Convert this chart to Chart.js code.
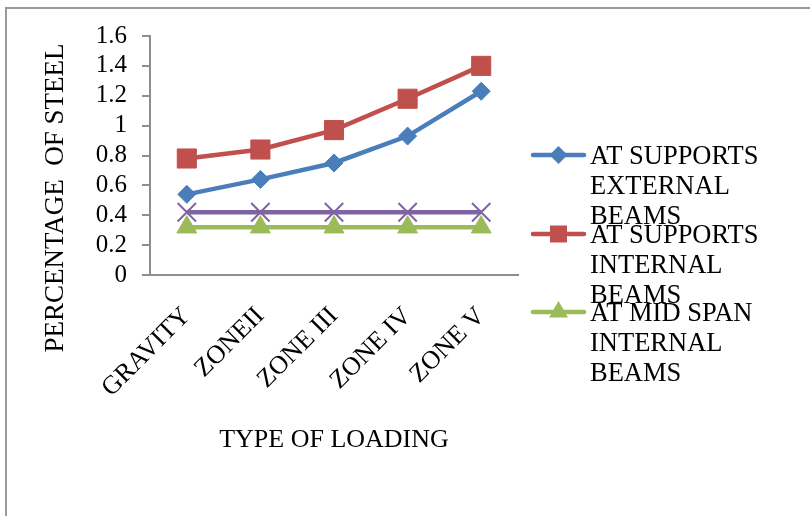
<!DOCTYPE html>
<html><head><meta charset="utf-8">
<script src="https://cdn.jsdelivr.net/npm/chart.js@4.4.1/dist/chart.umd.min.js"></script>
<style>html,body{margin:0;padding:0;background:#fff;}#wrap{width:810px;height:516px;position:relative;}</style>
</head><body><div id="wrap"><canvas id="c" width="810" height="516"></canvas></div>
<script>
const categories = ["GRAVITY", "ZONEII", "ZONE III", "ZONE IV", "ZONE V"];
const supportsExternal = [0.54, 0.64, 0.75, 0.93, 1.23];
const supportsInternal = [0.78, 0.84, 0.97, 1.18, 1.40];
const midSpanExternal = [0.42, 0.42, 0.42, 0.42, 0.42];
const midSpanInternal = [0.32, 0.32, 0.32, 0.32, 0.32];
const seriesNames = ["AT SUPPORTS EXTERNAL BEAMS", "AT SUPPORTS INTERNAL BEAMS", "AT MID SPAN INTERNAL BEAMS", "AT MID SPAN EXTERNAL BEAMS"];
const legendLines = [["AT SUPPORTS", "EXTERNAL", "BEAMS"], ["AT SUPPORTS", "INTERNAL", "BEAMS"], ["AT MID SPAN", "INTERNAL", "BEAMS"]];
const yTitle = "PERCENTAGE  OF STEEL";
const xTitle = "TYPE OF LOADING";

const FONT = "'Liberation Serif', 'Times New Roman', serif";
const BLUE = "#4a7ebb", RED = "#c0504d", GREEN = "#9bbb59", PURPLE = "#8064a2";

function drawMarker(ctx, style, x, y, r, color) {
  ctx.save();
  ctx.fillStyle = color; ctx.strokeStyle = color;
  ctx.beginPath();
  if (style === 'rectRot') {
    ctx.moveTo(x, y - r); ctx.lineTo(x + r, y); ctx.lineTo(x, y + r); ctx.lineTo(x - r, y); ctx.closePath(); ctx.fill();
  } else if (style === 'rect') {
    const s = r * Math.SQRT1_2; ctx.rect(x - s, y - s, 2 * s, 2 * s); ctx.fill();
  } else if (style === 'triangle') {
    const w = r * Math.sin(Math.PI / 3);
    ctx.moveTo(x, y - r); ctx.lineTo(x + w, y + r / 2); ctx.lineTo(x - w, y + r / 2); ctx.closePath(); ctx.fill();
  }
  ctx.restore();
}

const decor = {
  id: 'decor',
  beforeDraw(chart) {
    const ctx = chart.ctx;
    ctx.save();
    ctx.strokeStyle = '#9a9a9a'; ctx.lineWidth = 2;
    ctx.beginPath(); ctx.moveTo(6, 516); ctx.lineTo(6, 8); ctx.lineTo(810, 8); ctx.stroke();
    ctx.restore();
  },
  afterDraw(chart) {
    const ctx = chart.ctx;
    ctx.save();
    ctx.font = "27px " + FONT; ctx.fillStyle = '#000';
    ctx.translate(56, 198); ctx.rotate(-Math.PI / 2);
    ctx.textAlign = 'center'; ctx.textBaseline = 'middle';
    ctx.fillText(yTitle, 0, 0);
    ctx.restore();
    const styles = ['rectRot', 'rect', 'triangle'];
    const radii = [9, 12, 11];
    const tops = [155, 234, 312];
    ctx.save();
    ctx.font = "26.5px " + FONT; ctx.fillStyle = '#000';
    ctx.textAlign = 'left'; ctx.textBaseline = 'middle';
    for (let i = 0; i < legendLines.length; i++) {
      const ds = chart.data.datasets[i];
      const y = tops[i];
      ctx.strokeStyle = ds.borderColor; ctx.lineWidth = 4.5; ctx.lineCap = 'round';
      ctx.beginPath(); ctx.moveTo(533, y); ctx.lineTo(584, y); ctx.stroke();
      drawMarker(ctx, styles[i], 558.5, y, radii[i], ds.borderColor);
      ctx.fillStyle = '#000';
      legendLines[i].forEach((t, k) => ctx.fillText(t, 590, y + 2 + k * 30));
    }
    ctx.restore();
  }
};

new Chart(document.getElementById('c'), {
  type: 'line',
  data: {
    labels: categories,
    datasets: [
      { label: seriesNames[0], data: supportsExternal, borderColor: BLUE, backgroundColor: BLUE, borderWidth: 4.5, pointStyle: 'rectRot', pointRadius: 9, pointBorderWidth: 1, pointBackgroundColor: BLUE, pointBorderColor: BLUE },
      { label: seriesNames[1], data: supportsInternal, borderColor: RED, backgroundColor: RED, borderWidth: 4.5, pointStyle: 'rect', pointRadius: 13.5, pointBorderWidth: 1, pointBackgroundColor: RED, pointBorderColor: RED },
      { label: seriesNames[2], data: midSpanInternal, borderColor: GREEN, backgroundColor: GREEN, borderWidth: 4.5, pointStyle: 'triangle', pointRadius: 11.5, pointBorderWidth: 1, pointBackgroundColor: GREEN, pointBorderColor: GREEN },
      { label: seriesNames[3], data: midSpanExternal, borderColor: PURPLE, backgroundColor: PURPLE, borderWidth: 4.5, pointStyle: 'crossRot', pointRadius: 13, pointBorderWidth: 2, pointBackgroundColor: PURPLE, pointBorderColor: PURPLE }
    ]
  },
  options: {
    responsive: false,
    animation: false,
    layout: { padding: { top: 36, right: 292, bottom: 0, left: 0 } },
    plugins: { legend: { display: false }, tooltip: { enabled: false } },
    scales: {
      x: {
        offset: true,
        grid: { display: false, drawTicks: false, offset: true },
        border: { display: true, color: '#8e8e8e', width: 2 },
        ticks: { color: '#000', font: { family: FONT, size: 26 }, maxRotation: 45, minRotation: 45, padding: 26, autoSkip: false },
        title: { display: true, text: xTitle, color: '#000', font: { family: FONT, size: 26 }, padding: { top: 0, bottom: 60 } },
        afterFit(s) { s.height = 241; }
      },
      y: {
        min: 0, max: 1.6,
        grid: { drawOnChartArea: false, drawTicks: true, tickLength: 8, color: '#8e8e8e', lineWidth: 2 },
        border: { display: true, color: '#8e8e8e', width: 2 },
        ticks: { stepSize: 0.2, autoSkip: false, color: '#000', font: { family: FONT, size: 25 }, padding: 15, callback: v => String(+v.toFixed(1)) },
        afterFit(s) { s.width = 150; }
      }
    }
  },
  plugins: [decor]
});
</script></body></html>
